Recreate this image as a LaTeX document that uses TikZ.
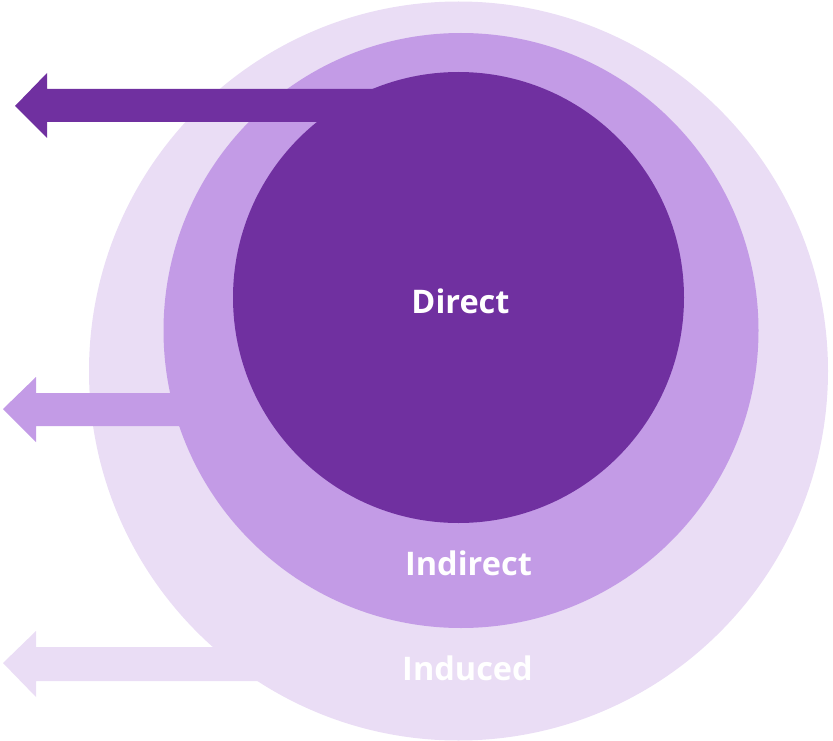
\documentclass[tikz,border=0pt]{standalone}
\usepackage{fontspec}
\setmainfont{Open Sans}
\definecolor{darkp}{RGB}{112,48,160}
\definecolor{midp}{RGB}{195,155,230}
\definecolor{lightp}{RGB}{234,221,245}
\begin{document}
\begin{tikzpicture}[x=1pt,y=-1pt,
  ring/.style={circle,inner sep=0pt,outer sep=0pt,draw=none},
  lbl/.style={text=white,font=\fontsize{32.5}{32.5}\selectfont\bfseries,anchor=base,inner sep=0pt}]
\useasboundingbox (0,0) rectangle (833,741);
% outer
\node[ring,fill=lightp,minimum size=739pt] (outer) at (458.5,371) {};
\fill[lightp] (3,663) -- (36,631) -- (36,647) -- (300,647) -- (300,681) -- (36,681) -- (36,697) -- cycle;
% middle
\node[ring,fill=midp,minimum size=595pt] (middle) at (461,330.5) {};
\fill[midp] (3,409) -- (36,377) -- (36,393) -- (250,393) -- (250,426) -- (36,426) -- (36,442) -- cycle;
% inner
\node[ring,fill=darkp,minimum size=451pt] (inner) at (458.5,297.5) {};
\fill[darkp] (15,106) -- (47,73) -- (47,89) -- (420,89) -- (420,122) -- (47,122) -- (47,138) -- cycle;
% labels
\node[lbl] (direct) at (460.5,313.5) {Direct};
\node[lbl] (indirect) at (468.5,575.5) {Indirect};
\node[lbl] (induced) at (467.5,680.5) {Induced};
\end{tikzpicture}
\end{document}
